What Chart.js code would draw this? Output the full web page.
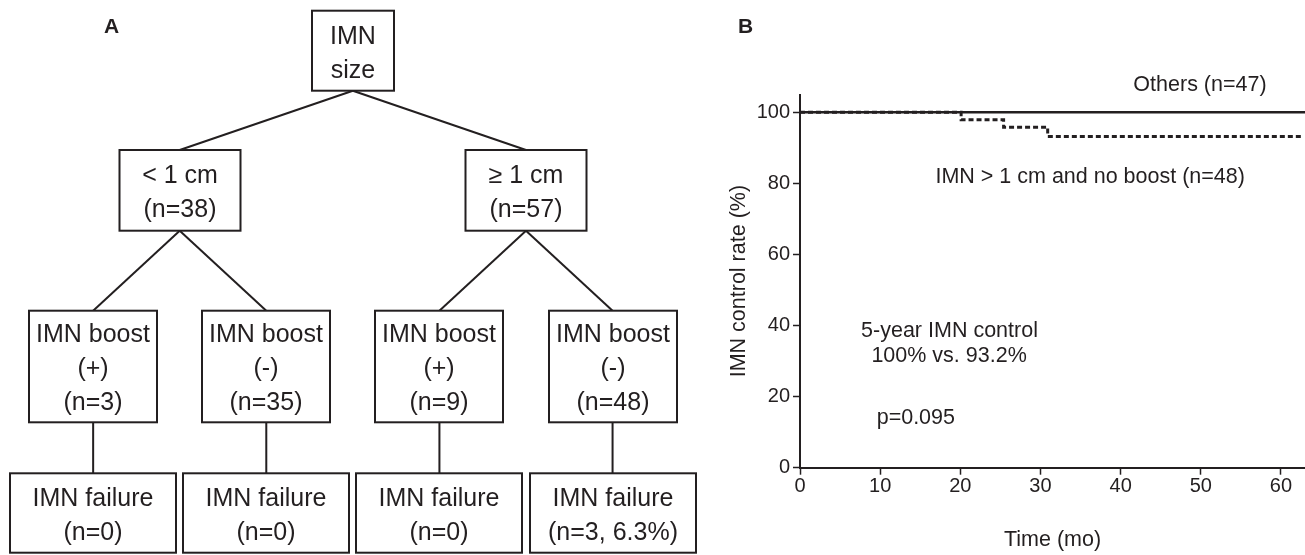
<!DOCTYPE html>
<html>
<head>
<meta charset="utf-8">
<title>IMN size tree and IMN control</title>
<script src="https://cdn.jsdelivr.net/npm/chart.js@4.4.1/dist/chart.umd.min.js"></script>
<style>
  body { margin: 0; background: #fff; }
  #wrap { position: relative; width: 1305px; height: 555px; }
  #treeChart { position: absolute; left: 0; top: 0; }
  #kmChart { position: absolute; left: 700px; top: 0; }
</style>
</head>
<body>
<div id="wrap">
  <canvas id="treeChart" width="700" height="555"></canvas>
  <canvas id="kmChart" width="605" height="555"></canvas>
</div>
<script>
// --- panel A: the tree ---
const nodeLabels = [
    ['IMN', 'size'],
    ['< 1 cm', '(n=38)'],
    ['\u2265 1 cm', '(n=57)'],
    ['IMN boost', '(+)', '(n=3)'],
    ['IMN boost', '(-)', '(n=35)'],
    ['IMN boost', '(+)', '(n=9)'],
    ['IMN boost', '(-)', '(n=48)'],
    ['IMN failure', '(n=0)'],
    ['IMN failure', '(n=0)'],
    ['IMN failure', '(n=0)'],
    ['IMN failure', '(n=3, 6.3%)']
];
const nodeParents = [-1, 0, 0, 1, 1, 2, 2, 3, 4, 5, 6];

// --- panel B: IMN control curves ---
const othersMonths = [0, 63];
const othersRate = [100, 100];
const noBoostMonths = [0, 20.1, 25.4, 30.9, 62.5];
const noBoostRate = [100, 97.9, 95.8, 93.2, 93.2];
const xTicks = [0, 10, 20, 30, 40, 50, 60];
const yTicks = [0, 20, 40, 60, 80, 100];

const ink = '#231f20';
const fontFamily = "'Liberation Sans', Arial, Helvetica, sans-serif";
Chart.defaults.font.family = fontFamily;
Chart.defaults.color = ink;

// layout of the tree rows (canvas pixels) and box widths per level
const rowTop = [10.7, 150, 310.7, 473.3];
const rowBottom = [90.7, 230.7, 422.3, 552.7];
const boxWidth = [82, 121, 128, 166];
const lineGap = 34;

// tree structure -> level and horizontal slot of each node
const levels = nodeParents.map((p, i) => {
    let d = 0;
    while (nodeParents[i] >= 0) { i = nodeParents[i]; d++; }
    return d;
});
const children = nodeLabels.map((_, i) => nodeParents.map((p, j) => p === i ? j : -1).filter(j => j >= 0));
const slots = [];
let nextSlot = 0;
function place(i) {
    if (!children[i].length) {
        slots[i] = nextSlot++;
        return slots[i];
    }
    const s = children[i].map(place);
    slots[i] = s.reduce((a, b) => a + b, 0) / s.length;
    return slots[i];
}
place(0);

const edgeSets = [];
nodeParents.forEach((p, i) => {
    if (p < 0) return;
    edgeSets.push({
        data: [
            { x: slots[p], y: rowBottom[levels[p]] },
            { x: slots[i], y: rowTop[levels[i]] }
        ],
        showLine: true,
        borderColor: ink,
        borderWidth: 2,
        pointRadius: 0
    });
});

const treeBoxes = {
    id: 'treeBoxes',
    afterDatasetsDraw(chart) {
        const ctx = chart.ctx;
        const xs = chart.scales.x;
        const ys = chart.scales.y;
        ctx.save();
        nodeLabels.forEach((lines, i) => {
            const l = levels[i];
            const cx = Math.round(xs.getPixelForValue(slots[i]));
            const top = ys.getPixelForValue(rowTop[l]);
            const bottom = ys.getPixelForValue(rowBottom[l]);
            const w = boxWidth[l];
            ctx.fillStyle = '#fff';
            ctx.fillRect(cx - w / 2, top, w, bottom - top);
            ctx.strokeStyle = ink;
            ctx.lineWidth = 2;
            ctx.strokeRect(cx - w / 2, top, w, bottom - top);

            ctx.fillStyle = ink;
            ctx.font = '25px ' + fontFamily;
            ctx.textAlign = 'center';
            ctx.textBaseline = 'middle';
            const mid = (top + bottom) / 2 + 3;
            const start = mid - (lines.length - 1) * lineGap / 2;
            lines.forEach((t, k) => ctx.fillText(t, cx, start + k * lineGap));
        });
        ctx.font = 'bold 21px ' + fontFamily;
        ctx.textAlign = 'left';
        ctx.textBaseline = 'alphabetic';
        ctx.fillText('A', 104, 33);
        ctx.restore();
    }
};

new Chart(document.getElementById('treeChart'), {
    type: 'scatter',
    data: { datasets: edgeSets },
    options: {
        responsive: false,
        animation: false,
        devicePixelRatio: 1,
        layout: { padding: 0 },
        plugins: { legend: { display: false }, tooltip: { enabled: false } },
        scales: {
            x: { display: false, min: -0.538, max: 3.505 },
            y: { display: false, min: 0, max: 555, reverse: true }
        }
    },
    plugins: [treeBoxes]
});

// text notes inside panel B, placed in data units
const notes = [
    { text: 'Others (n=47)', x: 49.9, y: 107.7 },
    { text: 'IMN > 1 cm and no boost (n=48)', x: 36.2, y: 81.9 },
    { text: '5-year IMN control', x: 18.65, y: 38.5 },
    { text: '100% vs. 93.2%', x: 18.6, y: 31.5 },
    { text: 'p=0.095', x: 14.45, y: 14.0 }
];

const kmNotes = {
    id: 'kmNotes',
    afterDraw(chart) {
        const ctx = chart.ctx;
        const xs = chart.scales.x;
        const ys = chart.scales.y;
        ctx.save();
        ctx.fillStyle = ink;
        ctx.font = '21.5px ' + fontFamily;
        ctx.textAlign = 'center';
        ctx.textBaseline = 'middle';
        notes.forEach(n => ctx.fillText(n.text, xs.getPixelForValue(n.x), ys.getPixelForValue(n.y)));
        ctx.font = 'bold 21px ' + fontFamily;
        ctx.textAlign = 'left';
        ctx.textBaseline = 'alphabetic';
        ctx.fillText('B', 38, 33);
        ctx.restore();
    }
};

new Chart(document.getElementById('kmChart'), {
    type: 'line',
    data: {
        datasets: [{
            label: 'Others (n=47)',
            data: othersMonths.map((m, i) => ({ x: m, y: othersRate[i] })),
            borderColor: ink,
            borderWidth: 2.7,
            pointRadius: 0,
            stepped: true
        }, {
            label: 'IMN > 1 cm and no boost (n=48)',
            data: noBoostMonths.map((m, i) => ({ x: m, y: noBoostRate[i] })),
            borderColor: ink,
            borderWidth: 3,
            borderDash: [5, 3],
            pointRadius: 0,
            stepped: true
        }]
    },
    options: {
        responsive: false,
        animation: false,
        devicePixelRatio: 1,
        layout: { padding: { top: 94.5, right: 0, bottom: 0, left: 0 } },
        plugins: { legend: { display: false }, tooltip: { enabled: false } },
        scales: {
            x: {
                type: 'linear',
                min: 0,
                max: 63,
                afterBuildTicks: s => { s.ticks = xTicks.map(v => ({ value: v })); },
                afterFit: s => { s.height = 87.3; },
                grid: { drawOnChartArea: false, tickLength: 7, tickWidth: 1.5, tickColor: ink },
                border: { color: ink, width: 2 },
                ticks: { font: { size: 20 }, color: ink, padding: 0, maxRotation: 0 },
                title: {
                    display: true,
                    text: 'Time (mo)',
                    color: ink,
                    font: { size: 21.5 },
                    padding: { top: 0, bottom: 1.6 }
                }
            },
            y: {
                min: 0,
                max: 105,
                afterBuildTicks: s => { s.ticks = yTicks.map(v => ({ value: v })); },
                afterFit: s => { s.width = 100; },
                grid: { drawOnChartArea: false, tickLength: 7, tickWidth: 1.5, tickColor: ink },
                border: { color: ink, width: 2 },
                ticks: { font: { size: 20 }, color: ink, padding: 3 },
                title: {
                    display: true,
                    text: 'IMN control rate (%)',
                    color: ink,
                    font: { size: 21.5 },
                    padding: { top: 26, bottom: 0 }
                }
            }
        }
    },
    plugins: [kmNotes]
});
</script>
</body>
</html>
